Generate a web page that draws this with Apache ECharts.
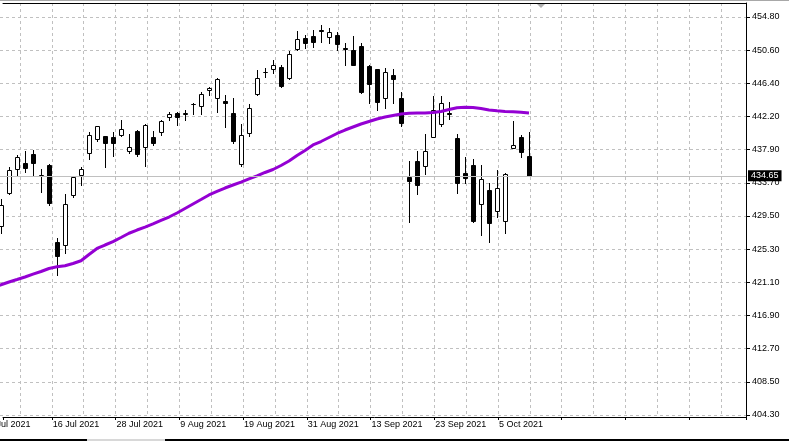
<!DOCTYPE html>
<html>
<head>
<meta charset="utf-8">
<script src="https://cdn.jsdelivr.net/npm/echarts@6/dist/echarts.min.js"></script>
<style>
  html, body { margin: 0; padding: 0; background: #fff; }
  #chart { width: 789px; height: 441px; }
</style>
</head>
<body>
<div id="chart"></div>
<script>
// ---- data ----
const dates = ['6 Jul 2021','7 Jul 2021','8 Jul 2021','9 Jul 2021','12 Jul 2021','13 Jul 2021','14 Jul 2021','15 Jul 2021','16 Jul 2021','19 Jul 2021','20 Jul 2021','21 Jul 2021','22 Jul 2021','23 Jul 2021','26 Jul 2021','27 Jul 2021','28 Jul 2021','29 Jul 2021','30 Jul 2021','2 Aug 2021','3 Aug 2021','4 Aug 2021','5 Aug 2021','6 Aug 2021','9 Aug 2021','10 Aug 2021','11 Aug 2021','12 Aug 2021','13 Aug 2021','16 Aug 2021','17 Aug 2021','18 Aug 2021','19 Aug 2021','20 Aug 2021','23 Aug 2021','24 Aug 2021','25 Aug 2021','26 Aug 2021','27 Aug 2021','30 Aug 2021','31 Aug 2021','1 Sep 2021','2 Sep 2021','3 Sep 2021','7 Sep 2021','8 Sep 2021','9 Sep 2021','10 Sep 2021','13 Sep 2021','14 Sep 2021','15 Sep 2021','16 Sep 2021','17 Sep 2021','20 Sep 2021','21 Sep 2021','22 Sep 2021','23 Sep 2021','24 Sep 2021','27 Sep 2021','28 Sep 2021','29 Sep 2021','30 Sep 2021','1 Oct 2021','4 Oct 2021','5 Oct 2021','6 Oct 2021','7 Oct 2021','8 Oct 2021','11 Oct 2021'];

const opens = [null, null,
  428.28, 432.51, 435.48, 436.24, 437.38, 434.80, 436.00, 426.21, 425.83, 432.25,
  434.72, 437.51, 439.28, 439.70, 439.57, 439.79, 437.84, 440.34, 438.34, 439.53,
  440.17, 442.07, 442.58, 442.55, 443.80, 443.51, 445.50, 444.49, 444.14, 442.58,
  436.15, 440.04, 445.09, 447.82, 448.17, 448.42, 447.10, 450.78, 452.17, 452.43,
  453.10, 452.23, 452.52, 450.83, 450.61, 451.12, 448.58, 448.17, 444.57, 447.44,
  444.49, 434.54, 436.53, 435.94, 439.61, 441.22, 442.60, 439.40, 434.97, 436.02,
  431.07, 432.85, 430.22, 428.96, 438.22, 439.53, 437.16];

const highs = [null, null,
  431.71, 435.73, 437.29, 437.84, 437.93, 435.51, 436.12, 426.72, 432.34, 434.66,
  435.73, 440.25, 441.01, 439.75, 440.25, 441.73, 439.96, 440.46, 441.19, 440.34,
  441.73, 442.78, 442.78, 443.00, 443.85, 445.32, 445.96, 447.10, 444.90, 444.49,
  441.19, 443.72, 448.08, 448.37, 449.34, 448.71, 450.49, 453.02, 452.52, 453.15,
  453.79, 453.45, 452.94, 451.46, 452.40, 451.46, 448.65, 448.25, 448.29, 448.17,
  445.32, 436.53, 437.80, 439.96, 444.78, 444.78, 444.05, 439.96, 437.08, 436.75,
  436.02, 433.78, 435.39, 434.97, 441.60, 439.83, 440.25];

const lows = [null, null,
  427.39, 432.30, 434.75, 435.17, 434.75, 432.63, 430.95, 422.06, 424.82, 431.99,
  433.48, 436.75, 439.10, 435.81, 437.16, 439.70, 437.58, 437.16, 435.89, 438.60,
  439.83, 441.73, 441.10, 441.73, 442.45, 442.49, 444.90, 442.79, 440.80, 438.78,
  435.93, 439.74, 444.90, 447.23, 447.66, 445.96, 446.93, 450.57, 450.83, 450.95,
  451.67, 451.46, 450.61, 448.71, 448.65, 445.20, 443.93, 443.00, 443.22, 443.85,
  440.97, 428.83, 432.39, 434.88, 439.55, 440.97, 441.82, 432.48, 433.78, 428.83,
  427.15, 426.29, 429.39, 427.43, 438.15, 437.08, 434.60];

const closes = [null, null,
  430.95, 435.39, 437.00, 435.60, 436.24, 434.75, 431.24, 424.51, 431.07, 434.46,
  435.51, 439.79, 440.93, 438.85, 438.77, 440.55, 438.34, 437.38, 441.06, 438.85,
  441.64, 442.49, 442.07, 442.68, 443.72, 445.03, 445.79, 446.93, 443.89, 439.10,
  439.83, 443.22, 447.12, 447.78, 448.75, 446.05, 450.07, 452.01, 451.46, 451.67,
  453.02, 452.86, 451.34, 450.70, 448.71, 445.32, 446.30, 444.05, 447.79, 446.93,
  441.31, 434.03, 433.52, 437.80, 443.00, 443.85, 442.49, 433.69, 434.34, 428.92,
  434.21, 428.62, 433.06, 434.88, 438.56, 437.71, 434.65];

const movingAvg = [null, 420.50,
  420.83, 421.18, 421.49, 421.81, 422.17, 422.51, 422.89, 423.10, 423.23, 423.52,
  423.87, 424.67, 425.43, 425.87, 426.29, 426.82, 427.36, 427.77, 428.15, 428.54,
  428.98, 429.42, 429.93, 430.50, 431.07, 431.64, 432.22, 432.66, 433.10, 433.48,
  433.86, 434.25, 434.63, 435.07, 435.45, 435.96, 436.53, 437.23, 437.86, 438.56,
  439.00, 439.51, 440.02, 440.46, 440.84, 441.22, 441.54, 441.86, 442.11, 442.30,
  442.49, 442.58, 442.62, 442.62, 442.68, 442.81, 443.06, 443.28, 443.34, 443.32,
  443.19, 443.00, 442.90, 442.81, 442.78, 442.71, 442.62];

const yTickLabels = ['404.30','408.50','412.70','416.90','421.10','425.30','429.50','433.70','437.90','442.20','446.40','450.60','454.80'];

// ---- build ----
const candleData = [];
for (let k = 0; k < dates.length; k++) {
  if (opens[k] != null) candleData.push([k, opens[k], closes[k], lows[k], highs[k]]);
}
const maData = [];
for (let k = 0; k < dates.length; k++) {
  if (movingAvg[k] != null) maData.push([k, movingAvg[k]]);
}
const lastClose = closes[closes.length - 1];

const Y_MIN = parseFloat(yTickLabels[0]);
const Y_MAX = parseFloat(yTickLabels[yTickLabels.length - 1]);
const Y_INT = (Y_MAX - Y_MIN) / (yTickLabels.length - 1);
// visible window in bar-index units (8 px per bar)
const X_MIN = 1.875;
const X_MAX = 95.125;

const FONT = 'Liberation Sans';
const gridColor = '#c0c0c0';
const dashed = [3, 3];
const LABEL_PAD = 1;

function renderCandle(params, api) {
  const k = api.value(0);
  const o = api.value(1), c = api.value(2), l = api.value(3), h = api.value(4);
  const pO = api.coord([k, o]);
  const pC = api.coord([k, c]);
  const pL = api.coord([k, l]);
  const pH = api.coord([k, h]);
  const cx = Math.round(pO[0]) + 0.5;
  const top = Math.round(Math.min(pO[1], pC[1])) + 0.5;
  const bot = Math.round(Math.max(pO[1], pC[1])) + 0.5;
  const bull = c >= o;
  return {
    type: 'group',
    children: [
      { type: 'line',
        shape: { x1: cx, y1: Math.round(pH[1]), x2: cx, y2: Math.round(pL[1]) + 1 },
        style: { stroke: '#000', lineWidth: 1 } },
      { type: 'rect',
        shape: { x: cx - 2, y: top, width: 4, height: bot - top },
        style: { fill: bull ? '#fff' : '#000', stroke: '#000', lineWidth: 1 } }
    ]
  };
}

const decor = [
  { type: 'line', shape: { x1: 0, y1: 0.5, x2: 789, y2: 0.5 }, style: { stroke: '#a8a8a8', lineWidth: 1 }, silent: true },
  { type: 'polygon', shape: { points: [[536, 3], [546, 3], [541, 8]] }, style: { fill: '#b0b0b0' }, silent: true },
  { type: 'rect', shape: { x: 0, y: 439, width: 789, height: 2 }, style: { fill: '#000' }, silent: true },
  { type: 'rect', shape: { x: 87, y: 439, width: 78, height: 2 }, style: { fill: '#d8d8d8' }, silent: true }
];

const chart = echarts.init(document.getElementById('chart'), null, { renderer: 'canvas' });
chart.setOption({
  animation: false,
  backgroundColor: '#fff',
  textStyle: { fontFamily: FONT },
  grid: [
    { left: 0, right: 43, top: 3, bottom: 24, show: false },
    { left: 0, right: 43, top: 17, bottom: 26, show: false }
  ],
  xAxis: [
    { gridIndex: 0, type: 'value', min: X_MIN, max: X_MAX, minInterval: 4, maxInterval: 4, position: 'bottom',
      axisLine: { show: true, onZero: false, lineStyle: { color: '#000', width: 1 } },
      axisTick: { show: false }, axisLabel: { show: false },
      splitLine: { show: true, showMinLine: false, showMaxLine: false,
        lineStyle: { color: gridColor, type: dashed, width: 1 } } },
    { gridIndex: 0, type: 'value', min: X_MIN, max: X_MAX, minInterval: 8, maxInterval: 8, position: 'bottom',
      axisLine: { show: false, onZero: false },
      axisTick: { show: true, length: 3, lineStyle: { color: '#000' } },
      axisLabel: { show: true, color: '#000', fontSize: 9, fontFamily: FONT, margin: 3,
        align: 'left', padding: [0, 0, 0, LABEL_PAD], showMinLabel: true, showMaxLabel: true,
        formatter: function (v) { return (Number.isInteger(v) && dates[v]) ? dates[v] : ''; } },
      splitLine: { show: false } },
    { gridIndex: 0, type: 'value', min: X_MIN, max: X_MAX, position: 'top',
      axisLine: { show: true, onZero: false, lineStyle: { color: '#000', width: 1 } },
      axisTick: { show: false }, axisLabel: { show: false }, splitLine: { show: false } },
    { gridIndex: 1, type: 'value', min: X_MIN, max: X_MAX, show: false,
      axisLine: { onZero: false }, splitLine: { show: false } }
  ],
  yAxis: [
    { gridIndex: 0, type: 'value', min: 0, max: 1, position: 'right',
      axisLine: { show: true, onZero: false, lineStyle: { color: '#000', width: 1 } },
      axisTick: { show: false }, axisLabel: { show: false }, splitLine: { show: false } },
    { gridIndex: 1, type: 'value', min: Y_MIN, max: Y_MAX, interval: Y_INT, position: 'right',
      axisLine: { show: false, onZero: false },
      axisTick: { show: true, length: 4, lineStyle: { color: '#000' } },
      axisLabel: { show: true, color: '#000', fontSize: 9, fontFamily: FONT, margin: 6,
        formatter: function (v, i) { return yTickLabels[i] || ''; } },
      splitLine: { show: true, lineStyle: { color: gridColor, type: dashed, width: 1 } } }
  ],
  series: [
    { type: 'line', name: 'price', xAxisIndex: 3, yAxisIndex: 1, data: [], z: 1,
      markLine: {
        silent: true, symbol: ['none', 'none'], animation: false,
        lineStyle: { color: '#c0c0c0', type: 'solid', width: 1 },
        label: { show: true, position: 'end', distance: 2,
          formatter: function () { return lastClose.toFixed(2); },
          color: '#fff', backgroundColor: '#000', fontSize: 9, fontFamily: FONT,
          padding: [1, 3, 1, 3] },
        data: [{ yAxis: lastClose }]
      } },
    { type: 'custom', name: 'SPY', xAxisIndex: 3, yAxisIndex: 1, data: candleData, z: 2,
      encode: { x: 0, y: [1, 2, 3, 4] }, renderItem: renderCandle, clip: false, silent: true },
    { type: 'line', name: 'MA', xAxisIndex: 3, yAxisIndex: 1, data: maData, z: 3,
      showSymbol: false, symbol: 'none', smooth: false, silent: true,
      lineStyle: { color: '#9400D3', width: 3 } }
  ],
  graphic: decor
});

// first date label lies left of the visible window: place it from the axis scale
const firstLabelX = chart.convertToPixel({ xAxisIndex: 1 }, 0);
const axisY = chart.convertToPixel({ yAxisIndex: 0 }, 0);
chart.setOption({
  graphic: decor.concat([
    { type: 'text', x: firstLabelX + LABEL_PAD, y: axisY + 3, silent: true,
      style: { text: dates[0], fill: '#000', fontSize: 9, fontFamily: FONT, textAlign: 'left', textVerticalAlign: 'top' } }
  ])
});
</script>
</body>
</html>
